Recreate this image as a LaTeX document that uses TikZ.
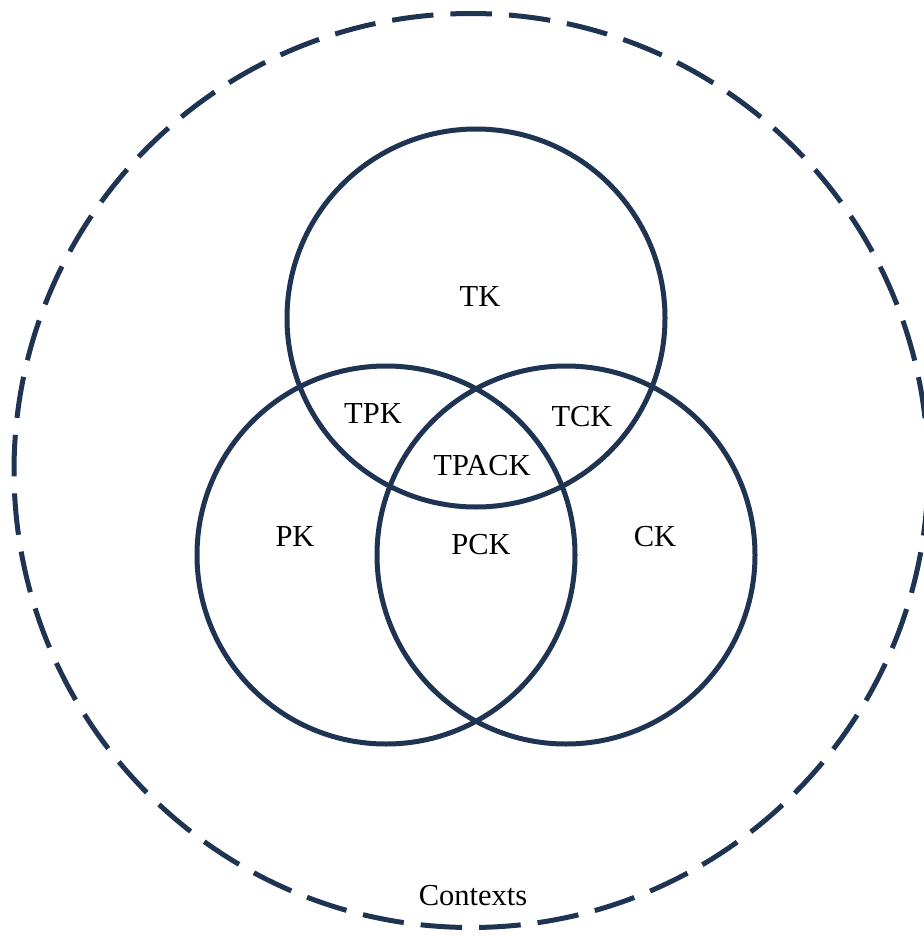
\documentclass[tikz,border=0pt]{standalone}
\usepackage{fontspec}
\setmainfont{Liberation Serif}
\definecolor{navy}{RGB}{31,52,82}
\begin{document}
\begin{tikzpicture}[x=1pt,y=-1pt,
  ring/.style={draw=navy,line width=5pt},
  ctxring/.style={draw=navy,line width=5pt,dash pattern=on 41.6pt off 17pt,dash phase=6.2pt},
  lbl/.style={anchor=base,inner sep=0pt,font=\fontsize{30.5}{36}\selectfont}]
\useasboundingbox (0,0) rectangle (923,936);
% outer dashed context circle
\draw[ctxring] (471,470.5) circle[radius=457pt];
% the three knowledge circles
\node[ring,circle,minimum size=378pt,inner sep=0pt] (tk) at (476,318) {};
\node[ring,circle,minimum size=378pt,inner sep=0pt] (pk) at (386,555) {};
\node[ring,circle,minimum size=378pt,inner sep=0pt] (ck) at (566,555) {};
% region labels
\node[lbl] (ltk) at (480,306) {TK};
\node[lbl] (ltpk) at (373,423) {TPK};
\node[lbl] (ltck) at (582,426) {TCK};
\node[lbl] (ltpack) at (482,475) {TPACK};
\node[lbl] (lpk) at (295,546) {PK};
\node[lbl] (lpck) at (481,554) {PCK};
\node[lbl] (lck) at (655,546) {CK};
\node[lbl] (lctx) at (473,905) {Contexts};
\end{tikzpicture}
\end{document}
